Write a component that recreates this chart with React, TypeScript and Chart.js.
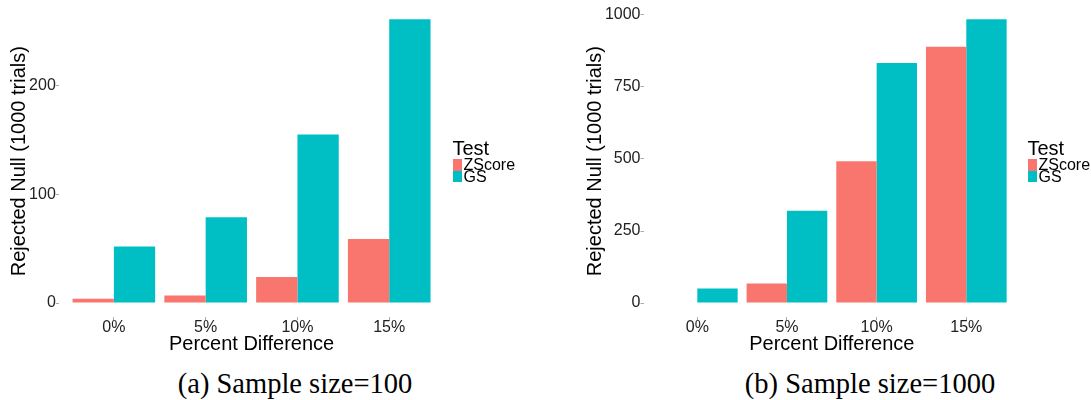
import React, { useEffect, useRef } from "react";
import { Chart, registerables } from "chart.js";

Chart.register(...registerables);

// ---- data ----
const categories = ["0%", "5%", "10%", "15%"];
const seriesNames = ["ZScore", "GS"];
const seriesColors = ["#F8766D", "#00BFC4"];

const zscoreA = [4, 7, 24, 59];
const gsA = [52, 79, 155, 261];
const yTicksA = [0, 100, 200];

const zscoreB = [2, 68, 492, 890];
const gsB = [50, 320, 833, 985];
const yTicksB = [0, 250, 500, 750, 1000];

const xTitle = "Percent Difference";
const yTitle = "Rejected Null (1000 trials)";
const legendTitle = "Test";
const captionA = "(a) Sample size=100";
const captionB = "(b) Sample size=1000";

const SANS = "'Liberation Sans', Arial, Helvetica, sans-serif";
const SERIF = "'Liberation Serif', 'Times New Roman', serif";
const CANVAS_H = 360;
const AREA_TOP = 5.1;
const AREA_BOTTOM = 317.2;

type PanelCfg = {
  left: number;
  width: number;
  areaLeft: number;
  areaRight: number;
  yTitleCenter: number;
  legendX: number;
  captionCenter: number;
  caption: string;
  z: number[];
  g: number[];
  yTicks: number[];
};

function Panel({ cfg }: { cfg: PanelCfg }) {
  const ref = useRef<HTMLCanvasElement | null>(null);
  useEffect(() => {
    if (!ref.current) return;
    const all = [...cfg.z, ...cfg.g, 0];
    const vmax = Math.max(...all);
    const vmin = Math.min(...all);
    const range = vmax - vmin;
    const chart = new Chart(ref.current, {
      type: "bar",
      data: {
        datasets: [
          {
            label: seriesNames[0],
            data: cfg.z.map((v, i) => ({ x: i, y: v })),
            backgroundColor: seriesColors[0],
            borderWidth: 0,
          },
          {
            label: seriesNames[1],
            data: cfg.g.map((v, i) => ({ x: i, y: v })),
            backgroundColor: seriesColors[1],
            borderWidth: 0,
          },
        ],
      },
      options: {
        animation: false,
        responsive: false,
        events: [],
        layout: {
          padding: { top: AREA_TOP, left: 0, bottom: 0, right: cfg.width - cfg.areaRight },
        },
        plugins: { legend: { display: false }, tooltip: { enabled: false } },
        datasets: { bar: { categoryPercentage: 0.9, barPercentage: 1.0 } },
        scales: {
          x: {
            type: "linear",
            min: -0.6,
            max: categories.length - 0.4,
            bounds: "data",
            offset: false,
            afterBuildTicks: (s: any) => {
              s.ticks = categories.map((_, i) => ({ value: i }));
            },
            afterFit: (s: any) => {
              s.height = CANVAS_H - AREA_BOTTOM;
              s.paddingLeft = 0;
              s.paddingRight = 0;
            },
            ticks: {
              callback: (v: any) => categories[Math.round(Number(v))],
              font: { family: SANS, size: 16 },
              color: "#222",
              padding: -2,
              maxRotation: 0,
              autoSkip: false,
            },
            grid: {
              offset: false,
              drawOnChartArea: false,
              drawTicks: true,
              tickLength: 3,
              color: "#aaa",
              tickColor: "#aaa",
            },
            border: { display: false },
            title: {
              display: true,
              text: xTitle,
              color: "#000",
              font: { family: SANS, size: 20 },
              padding: { top: 0, bottom: 4 },
            },
          },
          y: {
            type: "linear",
            min: vmin - 0.05 * range,
            max: vmax + 0.05 * range,
            bounds: "data",
            afterBuildTicks: (s: any) => {
              s.ticks = cfg.yTicks.map((v) => ({ value: v }));
            },
            afterFit: (s: any) => {
              s.width = cfg.areaLeft;
              s.paddingTop = 0;
              s.paddingBottom = 0;
            },
            ticks: {
              callback: (v: any) => String(v),
              font: { family: SANS, size: 16 },
              color: "#222",
              padding: 0,
            },
            grid: { drawOnChartArea: false, drawTicks: true, tickLength: 3, color: "#aaa", tickColor: "#aaa" },
            border: { display: false },
            title: {
              display: true,
              text: yTitle,
              color: "#000",
              font: { family: SANS, size: 20 },
              padding: { top: cfg.yTitleCenter - 12, bottom: 0 },
            },
          },
        },
      } as any,
    });
    return () => chart.destroy();
  }, [cfg]);

  const lx = cfg.legendX;
  return (
    <>
      <canvas
        ref={ref}
        width={cfg.width}
        height={CANVAS_H}
        style={{ position: "absolute", left: cfg.left, top: 0, width: cfg.width, height: CANVAS_H }}
      />
      <div
        style={{
          position: "absolute",
          left: lx,
          top: 138.1,
          font: `20px ${SANS}`,
          lineHeight: "20px",
          color: "#000",
          whiteSpace: "nowrap",
        }}
      >
        {legendTitle}
      </div>
      {seriesNames.map((name, i) => (
        <React.Fragment key={name}>
          <div
            style={{
              position: "absolute",
              left: lx + 0.5,
              top: 159 + i * 11.7,
              width: 8.7,
              height: 11.7,
              background: seriesColors[i],
            }}
          />
          <div
            style={{
              position: "absolute",
              left: lx + 11,
              top: 157.2 + i * 11.5,
              font: `16px ${SANS}`,
              lineHeight: "16px",
              color: "#000",
              whiteSpace: "nowrap",
            }}
          >
            {name}
          </div>
        </React.Fragment>
      ))}
      <div
        style={{
          position: "absolute",
          left: cfg.captionCenter - 200,
          width: 400,
          top: 370.4,
          textAlign: "center",
          font: `28.5px ${SERIF}`,
          lineHeight: "28.5px",
          color: "#000",
          whiteSpace: "nowrap",
        }}
      >
        {cfg.caption}
      </div>
    </>
  );
}

const panelA: PanelCfg = {
  left: 0,
  width: 545,
  areaLeft: 58.8,
  areaRight: 444.3,
  yTitleCenter: 19,
  legendX: 452.5,
  captionCenter: 295,
  caption: captionA,
  z: zscoreA,
  g: gsA,
  yTicks: yTicksA,
};

const panelB: PanelCfg = {
  left: 545,
  width: 546,
  areaLeft: 98.5,
  areaRight: 475.1,
  yTitleCenter: 50.5,
  legendX: 1027.5,
  captionCenter: 870,
  caption: captionB,
  z: zscoreB,
  g: gsB,
  yTicks: yTicksB,
};

export default function App() {
  return (
    <div
      style={{
        position: "absolute",
        left: 0,
        top: 0,
        width: 1091,
        height: 400,
        background: "#fff",
        overflow: "hidden",
      }}
    >
      <Panel cfg={panelA} />
      <Panel cfg={panelB} />
    </div>
  );
}
